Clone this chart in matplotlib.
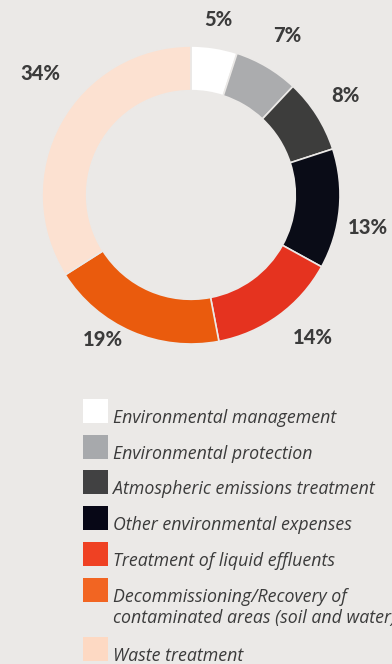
import matplotlib
matplotlib.use('Agg')
import matplotlib.pyplot as plt
from matplotlib.patches import Rectangle
import numpy as np

# data
categories = ['Environmental management', 'Environmental protection',
              'Atmospheric emissions treatment', 'Other environmental expenses',
              'Treatment of liquid effluents',
              'Decommissioning/Recovery of\ncontaminated areas (soil and water)',
              'Waste treatment']
shares = [5, 7, 8, 13, 14, 19, 34]
pct_labels = ['5%', '7%', '8%', '13%', '14%', '19%', '34%']

# style
BG = '#ebe9e7'
TEXT = '#3b3b3b'
slice_colors = ['#ffffff', '#abacae', '#3d3d3c', '#0a0c17', '#e5331f', '#ea5b0d', '#fce1d1']
legend_colors = ['#ffffff', '#a7a9ac', '#414142', '#070716', '#ef4123', '#f26522', '#fdd9c3']
# small nudges (degrees, radius) for label placement
label_nudge = [(0, 1.19), (-0.5, 1.25), (0.3, 1.23), (-5, 1.21), (4.5, 1.26), (-8, 1.14), (-10, 1.30)]

fig = plt.figure(figsize=(3.92, 6.64), dpi=100, facecolor=BG)
ax = fig.add_axes([42 / 392, 1 - 344 / 664, 298 / 392, 298 / 664])
ax.set_facecolor(BG)

wedges, _ = ax.pie(shares, colors=slice_colors, startangle=90, counterclock=False,
                   radius=1.0, wedgeprops=dict(width=0.30, edgecolor=BG, linewidth=1.2))
ax.set_xlim(-1, 1)
ax.set_ylim(-1, 1)
ax.set_aspect('equal')
ax.axis('off')

for w, lab, (dth, r) in zip(wedges, pct_labels, label_nudge):
    mid = np.deg2rad((w.theta1 + w.theta2) / 2 + dth)
    ax.text(r * np.cos(mid), r * np.sin(mid), lab, ha='center', va='center',
            fontsize=14.5, fontweight=900, fontstyle='normal', color=TEXT,
            family=['Lato', 'DejaVu Sans'])

# legend drawn by hand, one text per line so baselines sit at the patch bottom
sw = 25 / 392
sh = 24 / 664
y_top = 399
line_h = 21
row_gap = 35.7
for cat, col in zip(categories, legend_colors):
    lines = cat.split('\n')
    fig.add_artist(Rectangle((83 / 392, 1 - (y_top + 24) / 664), sw, sh,
                             transform=fig.transFigure, facecolor=col, edgecolor='none'))
    for i, line in enumerate(lines):
        fig.text(113 / 392, 1 - (y_top + 24 + i * line_h) / 664, line, ha='left',
                 va='baseline', fontsize=12.8, style='italic', color=TEXT,
                 family=['Open Sans', 'DejaVu Sans'])
    y_top += row_gap + (len(lines) - 1) * 23.5

fig.savefig('out.png', dpi=100, facecolor=BG)
